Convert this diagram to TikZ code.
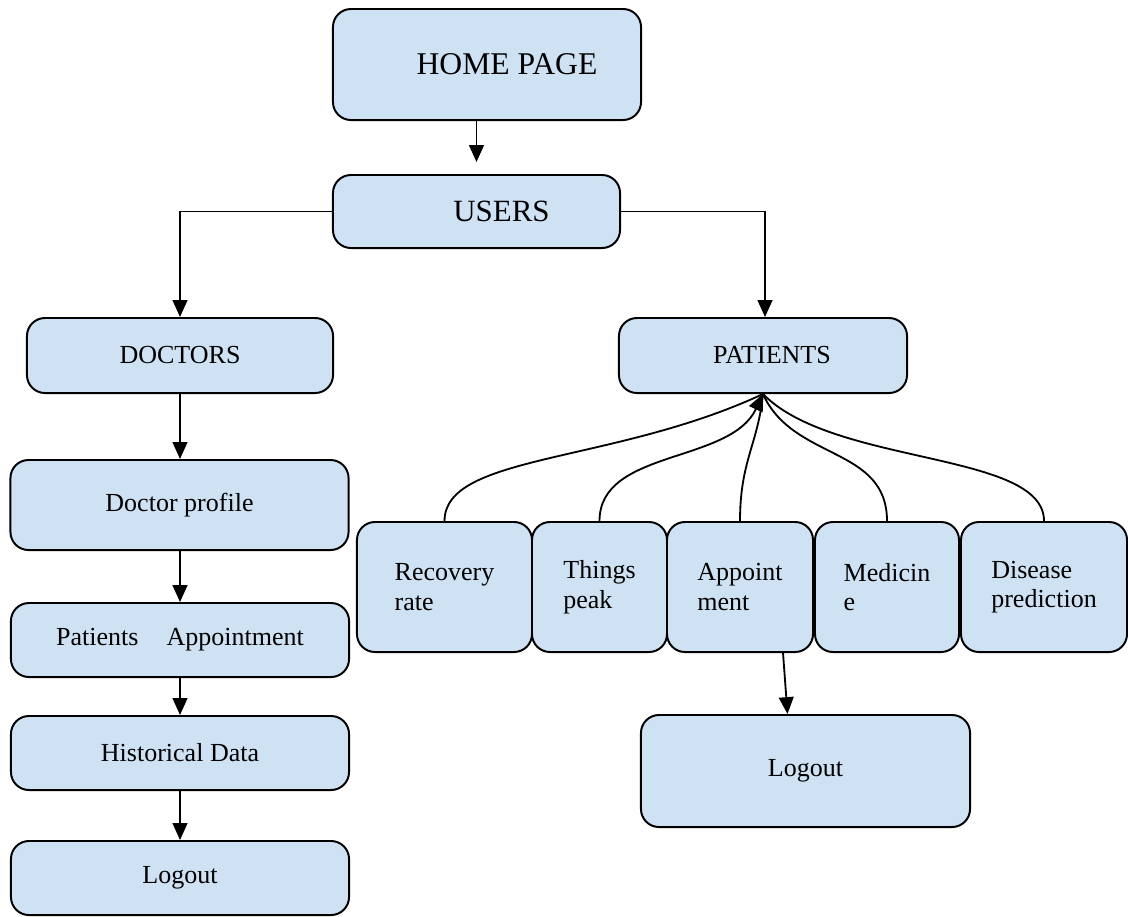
\documentclass[tikz,border=0pt]{standalone}
\usepackage{fontspec}
\setmainfont{Liberation Serif}
\usetikzlibrary{arrows.meta}
\definecolor{boxblue}{RGB}{207,226,243}

\begin{document}
\begin{tikzpicture}[x=0.025cm, y=-0.025cm, line width=1.3pt]
    \tikzstyle{pagebox}=[draw, line width=1.4pt, fill=boxblue, rounded corners=0.45cm, inner sep=0pt,
        font=\fontsize{18.5}{21}\selectfont]
    \tikzstyle{subbox}=[pagebox, align=left]
    \tikzstyle{flowarr}=[-{Triangle[length=12pt,width=10.5pt]}]

    \useasboundingbox (0,0) rectangle (1128,916);

    % top of the tree
    \node[pagebox, minimum width=7.7cm, minimum height=2.775cm, font=\fontsize{22.5}{26}\selectfont]
        (home) at (487,64.5) {\hspace{1cm}HOME PAGE};
    \node[pagebox, minimum width=7.175cm, minimum height=1.825cm, font=\fontsize{22}{26}\selectfont]
        (users) at (476.5,211.5) {\hspace{1.25cm}USERS};

    % doctors side
    \node[pagebox, minimum width=7.65cm, minimum height=1.875cm] (doctors) at (180,355.5) {DOCTORS};
    \node[pagebox, minimum width=8.45cm, minimum height=2.25cm] (dprofile) at (179.5,505) {Doctor profile};
    \node[pagebox, minimum width=8.45cm, minimum height=1.85cm] (pappoint) at (180,640)
        {Patients\hspace{0.7cm}Appointment};
    \node[pagebox, minimum width=8.45cm, minimum height=1.85cm] (histdata) at (180,753) {Historical Data};
    \node[pagebox, minimum width=8.45cm, minimum height=1.85cm] (dlogout) at (180,878) {Logout};

    % patients side
    \node[pagebox, minimum width=7.2cm, minimum height=1.875cm] (patients) at (763,355.5)
        {\hspace{0.45cm}PATIENTS};
    \node[subbox, minimum width=4.375cm, minimum height=3.25cm] (recovery) at (444.5,587) {Recovery\\rate};
    \node[subbox, minimum width=3.375cm, minimum height=3.25cm] (things) at (599.5,587) {Things\\peak};
    \node[subbox, minimum width=3.65cm, minimum height=3.25cm] (appoint) at (740,587) {Appoint\\ment};
    \node[subbox, minimum width=3.6cm, minimum height=3.25cm] (medicine) at (887,587) {Medicin\\e};
    \node[subbox, minimum width=4.15cm, minimum height=3.25cm] (disease) at (1044,587) {Disease\\prediction};
    \node[pagebox, minimum width=8.225cm, minimum height=2.8cm] (plogout) at (805.5,771) {Logout};

    % connectors
    \draw[flowarr, shorten >=12*0.025cm] (users.north |- home.south) -- (users.north);
    \draw[flowarr] (users.west) -| (doctors.north);
    \draw[flowarr] (users.east) -| ([xshift=2*0.025cm]patients.north);
    \draw[flowarr] (doctors.south) -- (doctors.south |- dprofile.north);
    \draw[flowarr] (doctors.south |- dprofile.south) -- (pappoint.north);
    \draw[flowarr] (pappoint.south) -- (histdata.north);
    \draw[flowarr] (histdata.south) -- (dlogout.north);
    \draw[flowarr] ([xshift=1.075cm]appoint.south) -- ([xshift=-0.45cm]plogout.north);

    \foreach \n/\ay/\bx/\by in {recovery/-67/-150/70, appoint/-60/-5/50, medicine/-75/30/67, disease/-70/70/72} {
        \draw (\n.north) .. controls +(0,\ay) and +(\bx,\by) .. (patients.south);
    }
    \draw[flowarr] (things.north) .. controls +(0,-72) and +(-33,70) .. (patients.south);

\end{tikzpicture}
\end{document}
